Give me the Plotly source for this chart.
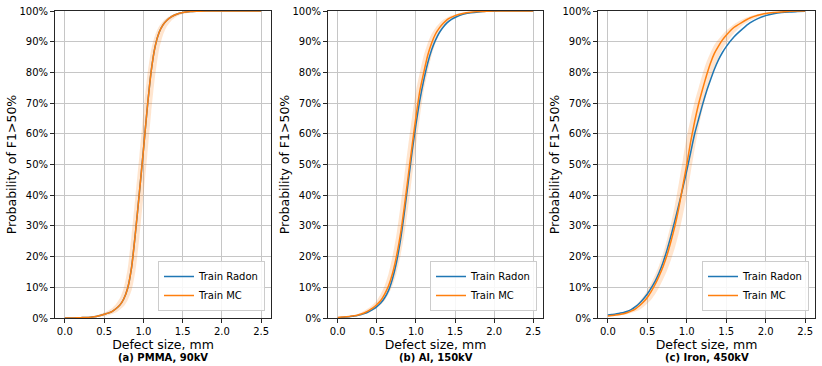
import plotly.graph_objects as go

# ---------------- data ----------------
DEFECT_SIZE = [0.0, 0.05, 0.1, 0.15, 0.2, 0.25, 0.3, 0.35, 0.4, 0.45, 0.5, 0.55, 0.6, 0.65, 0.7,
               0.75, 0.8, 0.85, 0.9, 0.95, 1.0, 1.05, 1.1, 1.15, 1.2, 1.25, 1.3, 1.35, 1.4, 1.45, 1.5,
               1.6, 1.7, 1.8, 1.9, 2.0, 2.1, 2.2, 2.3, 2.4, 2.5]

# (a) PMMA, 90kV
PMMA_RADON = [0.0, 0.0001, 0.0003, 0.0005, 0.001, 0.0015, 0.002, 0.003, 0.005, 0.008, 0.012, 0.016,
              0.021, 0.03, 0.042, 0.062, 0.097, 0.165, 0.28, 0.41, 0.545, 0.685, 0.805, 0.885, 0.93,
              0.955, 0.97, 0.98, 0.987, 0.992, 0.995, 0.998, 0.999, 1.0, 1.0, 1.0, 1.0, 1.0, 1.0, 1.0, 1.0]
PMMA_MC = [0.0, 0.0001, 0.0003, 0.0005, 0.001, 0.0015, 0.002, 0.003, 0.005, 0.008, 0.012, 0.016,
           0.021, 0.03, 0.042, 0.062, 0.097, 0.165, 0.28, 0.41, 0.545, 0.685, 0.805, 0.885, 0.93,
           0.955, 0.97, 0.98, 0.987, 0.992, 0.995, 0.998, 0.999, 1.0, 1.0, 1.0, 1.0, 1.0, 1.0, 1.0, 1.0]
PMMA_MC_UPPER = [0.0005, 0.0008, 0.001, 0.0015, 0.002, 0.003, 0.004, 0.006, 0.009, 0.013, 0.018, 0.024,
                 0.032, 0.045, 0.064, 0.098, 0.16, 0.27, 0.40, 0.53, 0.67, 0.79, 0.875, 0.922, 0.95,
                 0.967, 0.978, 0.986, 0.991, 0.994, 0.996, 0.998, 0.999, 1.0, 1.0, 1.0, 1.0, 1.0, 1.0, 1.0, 1.0]
PMMA_MC_LOWER = [0.0, 0.0, 0.0001, 0.0002, 0.0004, 0.0007, 0.001, 0.0015, 0.0025, 0.004, 0.006, 0.009,
                 0.013, 0.018, 0.027, 0.038, 0.058, 0.09, 0.155, 0.265, 0.395, 0.53, 0.67, 0.79, 0.875,
                 0.922, 0.95, 0.967, 0.978, 0.985, 0.99, 0.995, 0.998, 0.999, 1.0, 1.0, 1.0, 1.0, 1.0, 1.0, 1.0]

# (b) Al, 150kV
AL_RADON = [0.001, 0.002, 0.003, 0.004, 0.006, 0.008, 0.011, 0.015, 0.021, 0.028, 0.037, 0.049,
            0.066, 0.09, 0.128, 0.18, 0.25, 0.34, 0.44, 0.54, 0.63, 0.71, 0.775, 0.83, 0.873,
            0.905, 0.93, 0.948, 0.962, 0.972, 0.979, 0.989, 0.994, 0.997, 0.999, 0.9995, 1.0, 1.0, 1.0, 1.0, 1.0]
AL_MC = [0.002, 0.003, 0.004, 0.005, 0.007, 0.009, 0.013, 0.018, 0.025, 0.033, 0.044, 0.057,
         0.078, 0.105, 0.145, 0.20, 0.27, 0.36, 0.46, 0.56, 0.655, 0.74, 0.80, 0.855, 0.895,
         0.925, 0.945, 0.96, 0.972, 0.979, 0.985, 0.992, 0.996, 0.998, 0.999, 1.0, 1.0, 1.0, 1.0, 1.0, 1.0]
AL_MC_UPPER = [0.003, 0.004, 0.005, 0.007, 0.009, 0.013, 0.018, 0.025, 0.033, 0.044, 0.057, 0.078,
               0.105, 0.145, 0.20, 0.27, 0.36, 0.46, 0.56, 0.655, 0.74, 0.80, 0.855, 0.895, 0.925,
               0.945, 0.96, 0.972, 0.979, 0.985, 0.989, 0.995, 0.998, 0.999, 1.0, 1.0, 1.0, 1.0, 1.0, 1.0, 1.0]
AL_MC_LOWER = [0.001, 0.002, 0.003, 0.004, 0.005, 0.007, 0.009, 0.013, 0.018, 0.025, 0.033, 0.044,
               0.057, 0.078, 0.105, 0.145, 0.20, 0.27, 0.36, 0.46, 0.56, 0.655, 0.74, 0.80, 0.855,
               0.895, 0.925, 0.945, 0.96, 0.972, 0.979, 0.988, 0.993, 0.996, 0.998, 0.999, 1.0, 1.0, 1.0, 1.0, 1.0]

# (c) Iron, 450kV
IRON_RADON = [0.010, 0.0115, 0.013, 0.0155, 0.018, 0.022, 0.028, 0.037, 0.048, 0.062, 0.078, 0.098,
              0.12, 0.148, 0.182, 0.222, 0.268, 0.318, 0.37, 0.424, 0.48, 0.54, 0.60, 0.648, 0.695,
              0.738, 0.775, 0.81, 0.84, 0.864, 0.884, 0.916, 0.94, 0.961, 0.975, 0.985, 0.991, 0.995,
              0.997, 0.998, 0.999]
IRON_MC = [0.0065, 0.008, 0.0095, 0.0115, 0.014, 0.018, 0.023, 0.03, 0.04, 0.052, 0.067, 0.087,
           0.11, 0.137, 0.168, 0.205, 0.25, 0.30, 0.36, 0.43, 0.50, 0.575, 0.64, 0.697, 0.745,
           0.79, 0.83, 0.862, 0.885, 0.905, 0.921, 0.947, 0.963, 0.977, 0.986, 0.992, 0.995, 0.997,
           0.999, 1.0, 1.0]
IRON_MC_UPPER = [0.0085, 0.0105, 0.0125, 0.015, 0.019, 0.024, 0.031, 0.041, 0.054, 0.07, 0.09, 0.114,
                 0.141, 0.172, 0.21, 0.256, 0.307, 0.368, 0.44, 0.515, 0.59, 0.65, 0.705, 0.75, 0.795,
                 0.834, 0.864, 0.89, 0.907, 0.923, 0.936, 0.957, 0.972, 0.983, 0.99, 0.994, 0.997, 0.998,
                 0.999, 1.0, 1.0]
IRON_MC_LOWER = [0.005, 0.006, 0.007, 0.0085, 0.0105, 0.013, 0.017, 0.021, 0.027, 0.036, 0.047, 0.06,
                 0.078, 0.1, 0.126, 0.155, 0.19, 0.23, 0.278, 0.335, 0.40, 0.475, 0.55, 0.62, 0.68,
                 0.73, 0.773, 0.815, 0.848, 0.875, 0.895, 0.928, 0.952, 0.968, 0.98, 0.988, 0.993, 0.996,
                 0.998, 0.999, 1.0]

X_TICKS = [0.0, 0.5, 1.0, 1.5, 2.0, 2.5]
Y_TICKS = [0.0, 0.1, 0.2, 0.3, 0.4, 0.5, 0.6, 0.7, 0.8, 0.9, 1.0]
SUBTITLES = ["(a) PMMA, 90kV", "(b) Al, 150kV", "(c) Iron, 450kV"]
SERIES_NAMES = ["Train Radon", "Train MC"]

PANELS = [
    (PMMA_RADON, PMMA_MC, PMMA_MC_UPPER, PMMA_MC_LOWER),
    (AL_RADON, AL_MC, AL_MC_UPPER, AL_MC_LOWER),
    (IRON_RADON, IRON_MC, IRON_MC_UPPER, IRON_MC_LOWER),
]

# ---------------- styling ----------------
W, H = 822, 366
BLUE = "#1f77b4"
ORANGE = "#ff7f0e"
BAND = "rgba(255,127,14,0.2)"
FONT = "DejaVu Sans"
AXCOL = "#262626"
GRIDCOL = "#c6c6c6"

x_px = [(55, 271), (328, 543), (598, 815)]
y_px = (11, 318)
ydom = [1 - y_px[1] / H, 1 - y_px[0] / H]

fig = go.Figure()
layout = dict(
    width=W, height=H, autosize=False,
    margin=dict(l=0, r=0, t=0, b=0, pad=0),
    paper_bgcolor="white", plot_bgcolor="white",
    font=dict(family=FONT, size=10, color="black"),
    annotations=[],
)

for i, (radon, mc, up, lo) in enumerate(PANELS):
    sfx = "" if i == 0 else str(i + 1)
    xa, ya = "x" + sfx, "y" + sfx
    leg = "legend" + sfx
    common = dict(xaxis=xa, yaxis=ya, legend=leg)
    fig.add_trace(go.Scatter(x=DEFECT_SIZE, y=lo, mode="lines", line=dict(width=0, shape="spline", smoothing=0.6),
                             showlegend=False, hoverinfo="skip", **common))
    fig.add_trace(go.Scatter(x=DEFECT_SIZE, y=up, mode="lines", line=dict(width=0, shape="spline", smoothing=0.6),
                             fill="tonexty", fillcolor=BAND, showlegend=False, hoverinfo="skip", **common))
    fig.add_trace(go.Scatter(x=DEFECT_SIZE, y=radon, mode="lines", name=SERIES_NAMES[0],
                             line=dict(color=BLUE, width=1.5, shape="spline", smoothing=0.6), **common))
    fig.add_trace(go.Scatter(x=DEFECT_SIZE, y=mc, mode="lines", name=SERIES_NAMES[1],
                             line=dict(color=ORANGE, width=1.5, shape="spline", smoothing=0.6), **common))

    xd = [x_px[i][0] / W, x_px[i][1] / W]
    layout["xaxis" + sfx] = dict(
        domain=xd, anchor=ya, range=[-0.125, 2.625],
        tickvals=X_TICKS, ticktext=[f"{v:.1f}" for v in X_TICKS],
        showgrid=True, gridcolor=GRIDCOL, gridwidth=1,
        showline=True, mirror=True, linecolor=AXCOL, linewidth=1,
        ticks="outside", ticklen=4, tickcolor=AXCOL, zeroline=False,
        tickfont=dict(size=10), automargin=False,
        title=dict(text="Defect size, mm", font=dict(size=12.5), standoff=0),
    )
    layout["yaxis" + sfx] = dict(
        domain=ydom, anchor=xa, range=[0, 1],
        tickvals=Y_TICKS, ticktext=[f"{round(v * 100)}%" for v in Y_TICKS],
        showgrid=True, gridcolor=GRIDCOL, gridwidth=1,
        showline=True, mirror=True, linecolor=AXCOL, linewidth=1,
        ticks="outside", ticklen=4, tickcolor=AXCOL, zeroline=False,
        tickfont=dict(size=10), automargin=False,
        title=dict(text="Probability of F1>50%", font=dict(size=12.5), standoff=0),
    )
    layout[leg] = dict(
        x=(x_px[i][1] - 6) / W, y=1 - (y_px[1] - 7) / H,
        xanchor="right", yanchor="bottom", traceorder="normal",
        bgcolor="rgba(255,255,255,0.85)", bordercolor="#cccccc", borderwidth=1,
        font=dict(size=10, family=FONT), itemwidth=30, tracegroupgap=0,
    )
    layout["annotations"].append(dict(
        text=f"<b>{SUBTITLES[i]}</b>", xref="paper", yref="paper",
        x=(xd[0] + xd[1]) / 2, y=1 - 357 / H, xanchor="center", yanchor="middle",
        showarrow=False, font=dict(size=10, family=FONT),
    ))

fig.update_layout(**layout)
fig.write_html("out.html",
               post_script="document.body.style.margin='0px';document.body.style.padding='0px';",
               config={"displayModeBar": False, "responsive": False})
